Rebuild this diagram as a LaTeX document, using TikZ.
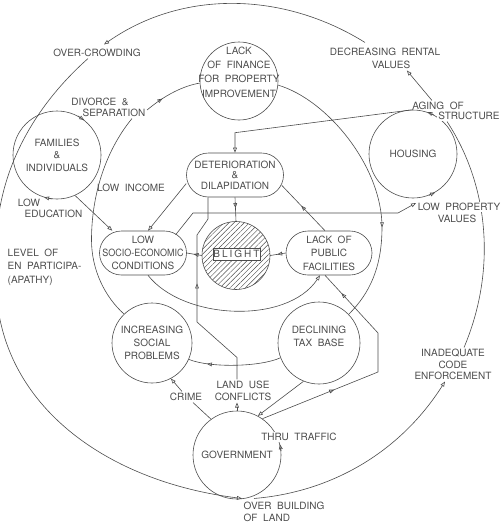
\documentclass[tikz,border=0pt]{standalone}
\usepackage{fontspec}
\setmainfont{TeX Gyre Heros}[WordSpace=2]
\usetikzlibrary{arrows.meta,decorations.markings,patterns.meta}
\pgfdeclarelayer{bg}
\pgfsetlayers{bg,main}
\definecolor{ink}{gray}{0.3}
\tikzset{
  ln/.style={draw=ink, line width=0.6pt},
  >={Triangle[open,length=5pt,width=3.8pt]},
  midarr/.style={postaction={decorate},decoration={markings,mark=at position #1 with {\arrow{>}}}},
  circ/.style={circle, draw=ink, line width=0.6pt, inner sep=0pt, minimum size=#1, text=ink, align=center},
  stad/.style={rectangle, rounded corners=22pt, draw=ink, line width=0.6pt, minimum width=#1, minimum height=44pt, inner sep=0pt, text=ink, align=center},
  lab/.style={text=ink, inner sep=1.5pt},
  wbg/.style={fill=white},
  ls/.style={font=\fontsize{10}{#1}\selectfont},
}
\begin{document}
\begin{tikzpicture}[x=1pt,y=-1pt]
\useasboundingbox (0,0) rectangle (501,523);
% ---- main nodes
\node[circ=78pt] (fin) at (239,81) {};
\node[lab, align=center, ls=14.3] (finT) at (239,72) {LACK\\OF FINANCE\\FOR PROPERTY\\IMPROVEMENT};
\node[circ=88pt, ls=12.5] (fam) at (57,155) {FAMILIES\\\&\\INDIVIDUALS};
\node[circ=88pt] (hou) at (413,154) {HOUSING};
\node[stad=97pt, ls=10.5] (det) at (235,175) {DETERIORATION\\\&\\DILAPIDATION};
\node[stad=87pt, ls=13] (soc) at (143,253) {LOW\\\scalebox{0.9}[1]{SOCIO-ECONOMIC}\\CONDITIONS};
\node[stad=86pt, ls=13.5] (fac) at (329,253) {LACK OF\\PUBLIC\\FACILITIES};
\node[circ=68pt, pattern={Lines[angle=45,distance=3.6pt,line width=0.45pt]}, pattern color=ink] (bli) at (236,255.5) {};
\node[draw=ink, fill=white, line width=0.6pt, inner sep=0pt, minimum width=47pt, minimum height=12pt, text=ink] (bliT) at (236.5,254) {\addfontfeature{LetterSpace=20}BLIGHT};
\node[circ=80pt, ls=13] (spr) at (152,343) {INCREASING\\SOCIAL\\PROBLEMS};
\node[circ=82pt] (tax) at (319,343) {};
\node[lab, align=center, ls=13] (taxT) at (319,336.5) {DECLINING\\TAX BASE};
\node[circ=88pt] (gov) at (237,455) {GOVERNMENT};
% ---- labels
\node[lab] (oc) at (97,53) {OVER-CROWDING};
\node[lab] (div1) at (100,102) {DIVORCE \&};
\node[lab] (div2) at (114,113) {SEPARATION};
\node[lab] (dec1) at (385,52) {DECREASING RENTAL};
\node[lab] (val) at (391,65) {VALUES};
\node[lab] (ag1) at (438,106) {AGING OF};
\node[lab,wbg] (ag2) at (469,116) {STRUCTURE};
\node[lab,wbg] (lpv1) at (459,207) {LOW PROPERTY};
\node[lab,wbg] (lpv2) at (457,219) {VALUES};
\node[lab, align=center, ls=11.5] (enf) at (453,364.5) {INADEQUATE\\CODE\\ENFORCEMENT};
\node[lab,wbg] (thru) at (299,437) {THRU TRAFFIC};
\node[lab, anchor=west, align=left, ls=12] (ob) at (242,512) {OVER BUILDING\\OF LAND};
\node[lab] (crime) at (186,397) {CRIME};
\node[lab, align=center, ls=12] (lu) at (243,391) {LAND USE\\CONFLICTS};
\node[lab] (le1) at (29,203) {LOW};
\node[lab] (le2) at (53.5,213.5) {EDUCATION};
\node[lab] (li) at (131,188) {LOW INCOME};
\node[lab, anchor=west, align=left, ls=13.5] (lev) at (6,267) {LEVEL OF\\EN PARTICIPA-\\(APATHY)};
\coordinate (levT) at (-3,229);
\coordinate (levB) at (-3,300);
% ---- arrows on circles
\draw[ln,->] (fam.62) -- (fam.52);
\draw[ln,->] (fam.263) -- (fam.253);
\draw[ln,->] (hou.62) -- (hou.71);
\draw[ln,->] (hou.291) -- (hou.300);
\draw[ln,->] (gov.5) -- (gov.14);
% ---- connectors
\begin{pgfonlayer}{bg}
% outer loop
\draw[ln,->] ([xshift=-20pt,yshift=4pt]dec1.north) .. controls (284,-8) and (183,-11) .. ([xshift=7pt,yshift=3pt]oc.north);
\draw[ln] ([xshift=-9pt]oc.south) .. controls (37,104) and (3,162) .. (levT);
\draw[ln,->] (levB) .. controls (8,410) and (110,482) .. ([yshift=2pt]ob.north west);
\draw[ln,->] ([xshift=12pt,yshift=2pt]ob.north west) .. controls (333,492) and (401,451) .. ([xshift=-8pt]enf.south);
\draw[ln] ([xshift=-22pt]ag2.south) .. controls (490,187) and (496,272) .. ([xshift=11pt]enf.north);
\draw[ln,->] ([xshift=-6pt]ag1.north) -- ([xshift=-5pt]val.south east);
% inner loop
\draw[ln,midarr=0.32] ([yshift=3pt]div2.east) .. controls (165,95) and (183,86) .. (fin.183);
\draw[ln,midarr=0.66] (fin.-6) .. controls (328,100) and (382,167) .. (382,227) .. controls (382,267) and (370,293) .. (tax.44);
\draw[ln,midarr=0.8] (tax.201) .. controls (260,367) and (210,368) .. (spr.-24);
\draw[ln] (spr.134) .. controls (105,297) and (91.5,270) .. (91.5,240) .. controls (91.5,190) and (108.5,147) .. ([xshift=18pt]div2.south);
% inner links
\draw[ln,->] (hou.north) -- ([yshift=20pt]det.north) -- (det.north);
\draw[ln,->] ([xshift=-3pt,yshift=-4pt]soc.32) -- (193,213) -- (398,213) -- ([yshift=4pt]lpv1.west);
\draw[ln,->] (fam.-66) -- (soc.144);
\draw[ln,->] (det.190) -- ([xshift=5pt]soc.north);
\draw[ln,midarr=0.45] (det.south) -- (bli.north);
\draw[ln,midarr=0.55] ([xshift=-4pt]fac.north) -- ([xshift=-2pt]det.-12);
\draw[ln,midarr=0.55] (fac.west) -- (bli.east);
\draw[ln,midarr=0.55] (bli.west) -- (soc.east);
\draw[ln,midarr=0.56] (lu.north -| gov.north) -- ++(0,-22) -- (197,322) -- (197,235) -- (208,219) -- ([xshift=-27pt]det.south);
\draw[ln,->] (gov.north) -- (lu.south -| gov.north);
\draw[ln] (gov.126) -- ([xshift=7pt]crime.south);
\draw[ln,->] ([xshift=-4pt]crime.north) -- (spr.-62);
\draw[ln,->] (tax.248) -- (gov.62);
\draw[ln, postaction={decorate}, decoration={markings, mark=at position 0.32 with {\arrow{>}}, mark=at position 0.9 with {\arrow{>}}}] (gov.55) -- (378,372) -- (378,333) -- ([xshift=-4pt]fac.south);
\draw[ln,->] ([xshift=5pt]soc.south) .. controls (183,320) and (287,325) .. ([xshift=-9pt]fac.south);
\end{pgfonlayer}
\end{tikzpicture}
\end{document}
